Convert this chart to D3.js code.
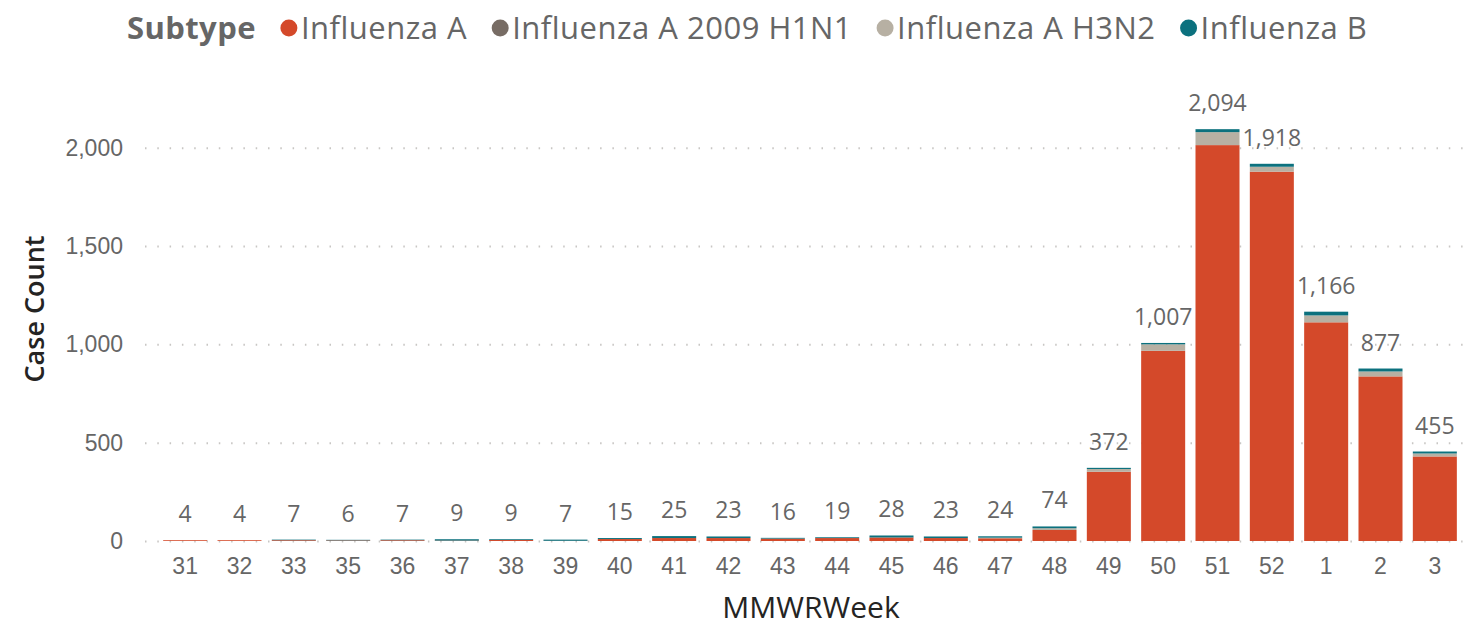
<!DOCTYPE html>
<html>
<head>
<meta charset="utf-8">
<title>Case Count by MMWRWeek and Subtype</title>
<script src="https://cdn.jsdelivr.net/npm/d3@7"></script>
<style>
	body { margin: 0; background: #fff; }
	svg { display: block; font-family: 'Segoe UI', 'Open Sans', 'Noto Sans', sans-serif; }
</style>
</head>
<body>
<svg id="chart"></svg>
<script>
/* global d3 */

// MMWR weeks shown on the x axis (week 34 is missing in the source).
const weeks = [ '31', '32', '33', '35', '36', '37', '38', '39', '40', '41', '42', '43',
	'44', '45', '46', '47', '48', '49', '50', '51', '52', '1', '2', '3' ];

const subtypes = [ 'Influenza A', 'Influenza A 2009 H1N1', 'Influenza A H3N2', 'Influenza B' ];
const subtypeColors = [ '#D4492A', '#776C64', '#B7B0A3', '#0C717E' ];

// Case counts per subtype, one value per week.
const influenzaA = [ 4, 4, 4, 3, 4, 2, 5, 1, 10, 15, 15, 12,
	15, 18, 15, 14, 56, 352, 967, 2013, 1878, 1112, 837, 430 ];
const influenzaAH1N1 = [ 0, 0, 0, 0, 0, 0, 0, 0, 0, 0, 0, 0,
	0, 0, 0, 0, 0, 0, 0, 0, 0, 0, 0, 0 ];
const influenzaAH3N2 = [ 0, 0, 0, 0, 0, 0, 0, 0, 0, 0, 0, 0,
	0, 0, 0, 3, 9, 14, 33, 66, 25, 35, 25, 15 ];
const influenzaB = [ 0, 0, 3, 3, 3, 7, 4, 6, 5, 10, 8, 4,
	4, 10, 8, 7, 9, 6, 7, 15, 15, 19, 15, 10 ];

const yTicks = [ 0, 500, 1000, 1500, 2000 ];

const width = 1481;
const height = 627;
const margin = { top: 69, right: 19, bottom: 86, left: 158 };

const svg = d3.select( '#chart' )
	.attr( 'width', width )
	.attr( 'height', height );

// build rows for the stack layout
const rows = weeks.map( ( week, i ) => ( {
	week,
	[ subtypes[ 0 ] ]: influenzaA[ i ],
	[ subtypes[ 1 ] ]: influenzaAH1N1[ i ],
	[ subtypes[ 2 ] ]: influenzaAH3N2[ i ],
	[ subtypes[ 3 ] ]: influenzaB[ i ],
} ) );
const totals = rows.map( ( r ) => d3.sum( subtypes, ( s ) => r[ s ] ) );
const stacked = d3.stack().keys( subtypes )( rows );

const x = d3.scaleBand()
	.domain( weeks )
	.range( [ margin.left, width - margin.right ] )
	.paddingInner( 0.19 )
	.paddingOuter( 0.095 );

const y = d3.scaleLinear()
	.domain( [ 0, 2400 ] )
	.range( [ height - margin.bottom, margin.top ] );

const color = d3.scaleOrdinal().domain( subtypes ).range( subtypeColors );
const fmt = d3.format( ',' );

/**
 * Dotted horizontal gridlines + y tick labels
 */
const yAxis = svg.append( 'g' )
	.attr( 'transform', `translate(${ margin.left - 13 },0)` )
	.call( d3.axisLeft( y ).tickValues( yTicks ).tickFormat( fmt )
		.tickSize( -( width - margin.right - margin.left + 15 ) ).tickPadding( 22 ) );
yAxis.select( '.domain' ).remove();
yAxis.selectAll( '.tick line' )
	.attr( 'stroke', '#C8C6C4' )
	.attr( 'stroke-width', 2 )
	.attr( 'stroke-dasharray', '1.5,10.8' );
yAxis.selectAll( '.tick text' )
	.attr( 'fill', '#666666' )
	.style( 'font-size', '23px' );

/**
 * Stacked bars
 */
svg.append( 'g' )
	.selectAll( 'g' )
	.data( stacked )
	.join( 'g' )
	.attr( 'fill', ( d ) => color( d.key ) )
	.selectAll( 'rect' )
	.data( ( d ) => d )
	.join( 'rect' )
	.attr( 'x', ( d ) => x( d.data.week ) )
	.attr( 'y', ( d ) => y( d[ 1 ] ) )
	.attr( 'width', x.bandwidth() )
	.attr( 'height', ( d ) => y( d[ 0 ] ) - y( d[ 1 ] ) );

// total labels above each bar
svg.append( 'g' )
	.selectAll( 'text' )
	.data( weeks )
	.join( 'text' )
	.attr( 'x', ( d ) => x( d ) + ( x.bandwidth() / 2 ) )
	.attr( 'y', ( d, i ) => y( totals[ i ] ) - 18 )
	.attr( 'text-anchor', 'middle' )
	.attr( 'fill', '#666666' )
	.style( 'font-size', '23px' )
	.text( ( d, i ) => fmt( totals[ i ] ) );

/**
 * X axis labels
 */
const xAxis = svg.append( 'g' )
	.attr( 'transform', `translate(0,${ height - margin.bottom })` )
	.call( d3.axisBottom( x ).tickSize( 0 ).tickPadding( 17 ) );
xAxis.select( '.domain' ).remove();
xAxis.selectAll( '.tick text' )
	.attr( 'fill', '#666666' )
	.style( 'font-size', '23px' );

svg.append( 'text' )
	.attr( 'x', 811 )
	.attr( 'y', 618 )
	.attr( 'text-anchor', 'middle' )
	.attr( 'fill', '#252423' )
	.style( 'font-size', '30px' )
	.text( 'MMWRWeek' );

svg.append( 'text' )
	.attr( 'transform', 'translate(44,309) rotate(-90)' )
	.attr( 'text-anchor', 'middle' )
	.attr( 'fill', '#252423' )
	.style( 'font-size', '27px' )
	.style( 'font-weight', 600 )
	.text( 'Case Count' );

/**
 * Legend
 */
const legend = svg.append( 'g' ).attr( 'transform', 'translate(127,39)' );
const title = legend.append( 'text' )
	.attr( 'fill', '#666666' )
	.style( 'font-size', '31px' )
	.style( 'font-weight', 700 )
	.style( 'letter-spacing', '0.4px' )
	.text( 'Subtype' );
let cursor = title.node().getComputedTextLength() + 25;

subtypes.forEach( ( s ) => {
	legend.append( 'circle' )
		.attr( 'cx', cursor + 8 )
		.attr( 'cy', -11 )
		.attr( 'r', 8.5 )
		.attr( 'fill', color( s ) );
	const label = legend.append( 'text' )
		.attr( 'x', cursor + 20 )
		.attr( 'fill', '#666666' )
		.style( 'font-size', '31px' )
		.style( 'letter-spacing', '0.5px' )
		.text( s );
	cursor += 20 + label.node().getComputedTextLength() + 25;
} );
</script>
</body>
</html>
